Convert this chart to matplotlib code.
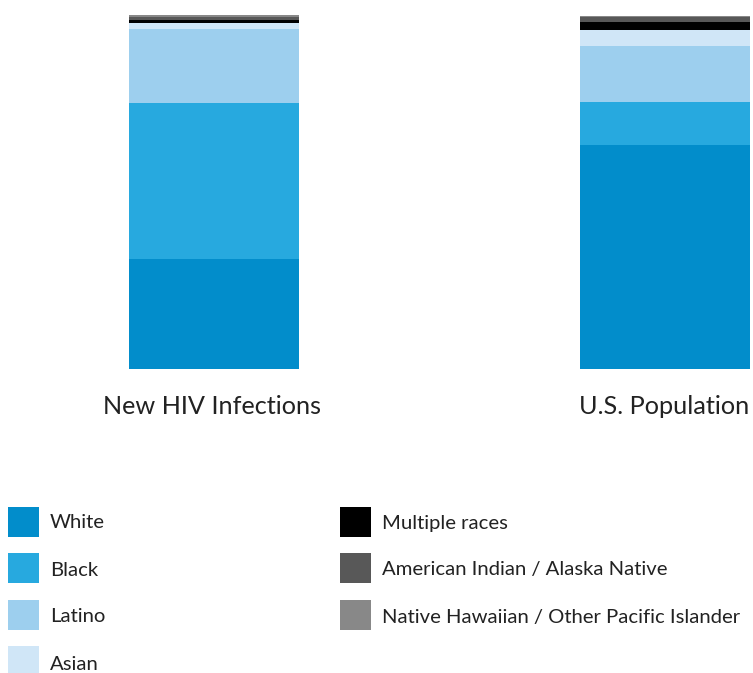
import matplotlib.pyplot as plt
from matplotlib.patches import Rectangle

plt.rcParams['font.family'] = ['Lato', 'DejaVu Sans']

# data
groups = ["New HIV Infections", "U.S. Population"]
races = ["White", "Black", "Latino", "Asian", "Multiple races",
         "American Indian / Alaska Native", "Native Hawaiian / Other Pacific Islander"]
colors = ["#028dcb", "#27a9df", "#9dcfee", "#d0e6f7", "#000000", "#585858", "#888888"]
hiv_share = [31.0, 44.0, 21.0, 1.7, 0.9, 0.8, 0.6]
pop_share = [63.3, 12.2, 15.6, 4.7, 2.2, 1.3, 0.2]

W, H = 753, 673
fig = plt.figure(figsize=(W / 100, H / 100), dpi=100)

# axes spans full width, bottom at bar base
ax = fig.add_axes([0, (H - 369) / H, 1, 369 / H])
ax.set_xlim(-214 / 451, (W - 214) / 451)
ax.set_ylim(0, 100 * 369 / 354.3)
ax.axis("off")

bar_w = 170 / 451
x = [0, 1]
bottoms = [0, 0]
for i, race in enumerate(races):
    vals = [hiv_share[i], pop_share[i]]
    ax.bar(x, vals, width=bar_w, bottom=bottoms, color=colors[i], linewidth=0)
    bottoms = [b + v for b, v in zip(bottoms, vals)]

# group labels
for xi, g in zip([212, 664], groups):
    fig.text(xi / W, 1 - 406 / H, g, ha="center", va="center", fontsize=18.2,
             color="#222222")

# legend, two columns
col_x = [8, 340]
row_y = [507, 553, 600, 646]
text_y = [523, 570, 617, 664]
for i, race in enumerate(races):
    col = 0 if i < 4 else 1
    row = i if i < 4 else i - 4
    px, py = col_x[col], row_y[row]
    fig.add_artist(Rectangle((px / W, 1 - (py + 30) / H), 31 / W, 30 / H,
                             transform=fig.transFigure, color=colors[i], linewidth=0))
    fig.text((px + 42) / W, 1 - text_y[row] / H, race, ha="left", va="center",
             fontsize=14.6, color="#222222")

fig.savefig("out.png", dpi=100)
